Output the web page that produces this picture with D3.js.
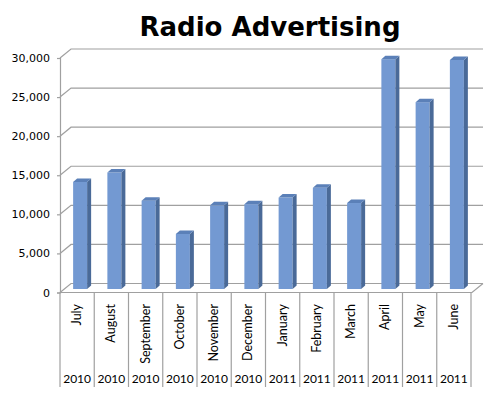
<!DOCTYPE html>
<html lang="en">
<head>
<meta charset="UTF-8">
<title>Radio Advertising</title>
<script src="https://d3js.org/d3.v7.min.js"></script>
<style>
    body { margin: 0; background: #fff; }
    .title { font-family: "DejaVu Sans", Verdana, sans-serif; font-weight: bold; }
    .yaxis text { font-family: "DejaVu Sans", Verdana, sans-serif; font-size: 11px; fill: #000; }
    .cat { font-family: Lato, "Open Sans", sans-serif; fill: #000; }
    .cat.m { font-size: 12.5px; }
    .cat.yr { font-size: 12px; }
</style>
</head>
<body>
<svg width="499" height="399"></svg>
<script>
    // chart data
    var months = ['July', 'August', 'September', 'October', 'November', 'December',
                  'January', 'February', 'March', 'April', 'May', 'June'];
    var years = ['2010', '2010', '2010', '2010', '2010', '2010',
                 '2011', '2011', '2011', '2011', '2011', '2011'];
    var values = [13700, 14900, 11300, 7050, 10700, 10850, 11700, 12950, 11000, 29400, 23900, 29300];
    var yTicks = [0, 5000, 10000, 15000, 20000, 25000, 30000];

    var svg = d3.select('svg');
    var left = 60, right = 471;
    var DX = 11, DY = -9;      // wall depth
    var bx = 4, by = -3.5;     // bar depth
    var barW = 14;
    var gridColor = '#a0a0a0';

    var xScale = d3.scaleBand().domain(months).range([left, right]);
    var yScale = d3.scaleLinear().domain([0, 30000]).range([292.5, 58]);

    svg.append('text')
        .attr('class', 'title')
        .attr('x', 270)
        .attr('y', 36)
        .attr('text-anchor', 'middle')
        .style('font-size', '26px')
        .text('Radio Advertising');

    // back wall gridlines + left wall diagonals
    var grid = svg.append('g');
    yTicks.forEach(function (t) {
        var y = yScale(t);
        grid.append('polyline')
            .attr('points', [[left, y], [left + DX, y + DY], [right + 12, y + DY]].join(' '))
            .attr('fill', 'none')
            .attr('stroke', gridColor)
            .attr('stroke-width', 1.2);
    });

    // floor front edge
    grid.append('polyline')
        .attr('points', [[left, yScale(0)], [right + 1, yScale(0)], [right + 12, yScale(0) + DY]].join(' '))
        .attr('fill', 'none')
        .attr('stroke', gridColor)
        .attr('stroke-width', 1.2);

    // bars
    var bars = svg.append('g').selectAll('g').data(values).enter().append('g');
    var bx0 = (d, i) => xScale(months[i]) + xScale.bandwidth() / 2 - barW / 2 + 3;
    var yTop = d => yScale(d) + by;
    var yBot = yScale(0) + by;

    bars.append('rect')
        .attr('x', bx0)
        .attr('y', yTop)
        .attr('width', barW)
        .attr('height', d => yBot - yTop(d))
        .attr('fill', '#7399d2');

    bars.append('polygon')
        .attr('points', (d, i) => {
            var x = bx0(d, i) + barW, t = yTop(d);
            return [[x, t], [x + bx, t + by], [x + bx, yBot + by], [x, yBot]].join(' ');
        })
        .attr('fill', '#4a6a98');

    bars.append('polygon')
        .attr('points', (d, i) => {
            var x = bx0(d, i), t = yTop(d);
            return [[x, t], [x + bx, t + by], [x + barW + bx, t + by], [x + barW, t]].join(' ');
        })
        .attr('fill', '#5b80b8');

    // y axis
    var yAxis = d3.axisLeft(yScale)
        .tickValues(yTicks)
        .tickSize(3)
        .tickPadding(7)
        .tickFormat(d3.format(','));
    svg.append('g')
        .attr('class', 'yaxis')
        .attr('transform', `translate(${left},0)`)
        .call(yAxis)
        .call(g => g.selectAll('line, path').attr('stroke', gridColor).attr('stroke-width', 1.2));

    // category separators and labels
    var cat = svg.append('g');
    months.concat(['']).forEach(function (m, i) {
        var x = i < months.length ? xScale(m) : right;
        cat.append('line')
            .attr('x1', x).attr('x2', x)
            .attr('y1', yScale(0)).attr('y2', 387)
            .attr('stroke', gridColor)
            .attr('stroke-width', 1.2);
    });

    cat.selectAll('text.m').data(months).enter().append('text')
        .attr('class', 'cat m')
        .attr('transform', d => `translate(${xScale(d) + xScale.bandwidth() / 2 + 4},304) rotate(-90)`)
        .attr('text-anchor', 'end')
        .text(d => d);

    cat.selectAll('text.yr').data(years).enter().append('text')
        .attr('class', 'cat yr')
        .attr('x', (d, i) => xScale(months[i]) + xScale.bandwidth() / 2)
        .attr('y', 383)
        .attr('text-anchor', 'middle')
        .text(d => d);
</script>
</body>
</html>
